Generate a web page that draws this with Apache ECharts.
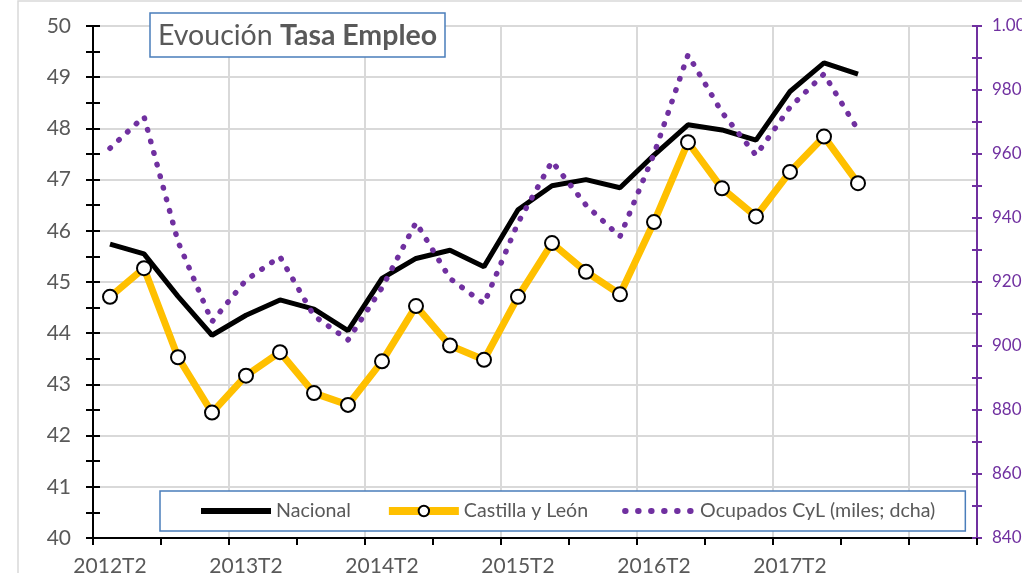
<!DOCTYPE html>
<html>
<head>
<meta charset="utf-8">
<script src="https://cdn.jsdelivr.net/npm/echarts@6/dist/echarts.min.js"></script>
<style>
html,body{margin:0;padding:0;background:#fff;}
#c{width:1022px;height:573px;}
</style>
</head>
<body>
<div id="c"></div>
<script>
// Categories: quarters 2012T2 .. 2018T3
const categories = [
  '2012T2','2012T3','2012T4','2013T1','2013T2','2013T3','2013T4','2014T1',
  '2014T2','2014T3','2014T4','2015T1','2015T2','2015T3','2015T4','2016T1',
  '2016T2','2016T3','2016T4','2017T1','2017T2','2017T3','2017T4','2018T1',
  '2018T2','2018T3'
];
const nacional = [45.74,45.55,44.72,43.96,44.35,44.65,44.47,44.05,45.07,45.46,45.62,45.30,
  46.41,46.88,47.00,46.84,47.48,48.07,47.97,47.77,48.72,49.28,49.06];
const castilla = [44.71,45.27,43.53,42.45,43.17,43.63,42.83,42.60,43.45,44.53,43.76,43.48,
  44.71,45.76,45.20,44.76,46.17,47.73,46.83,46.28,47.15,47.84,46.93];
const ocupados = [961.8,971.7,932.6,907.6,920.6,927.9,909.4,901.9,918.2,938.6,921.1,913.2,
  938.5,957.7,944.0,934.2,960.0,991.0,973.0,959.6,974.6,985.0,967.5];
const seriesNames = ['Nacional','Castilla y León','Ocupados CyL (miles; dcha)'];

const chart = echarts.init(document.getElementById('c'));
const grey = '#595959';
const font = 'Lato';
const purple = '#7030a0';
const hidden = { color: 'rgba(0,0,0,0)', borderColor: 'rgba(0,0,0,0)', opacity: 0 };

chart.setOption({
  animation: false,
  textStyle: { fontFamily: font },
  graphic: [{
    type: 'rect', silent: true, z: -10,
    shape: { x: 18, y: 1, width: 1100, height: 700 },
    style: { fill: 'none', stroke: '#d9d9d9', lineWidth: 1.5 }
  }],
  title: {
    left: 150, top: 13,
    text: '{n|Evoución }{b|Tasa Empleo}',
    backgroundColor: '#fff',
    borderColor: '#4a7ebb', borderWidth: 1.5,
    padding: [8, 8, 7, 8],
    textStyle: {
      rich: {
        n: { fontSize: 28.5, color: grey, fontFamily: font, fontWeight: 'normal' },
        b: { fontSize: 28.5, color: grey, fontFamily: font, fontWeight: 'bold' }
      }
    },
    z: 10
  },
  legend: {
    left: 160, top: 491,
    data: [
      { name: seriesNames[0], itemStyle: hidden, lineStyle: { width: 6, color: '#000' } },
      { name: seriesNames[1], lineStyle: { width: 8, color: '#ffc000' } },
      { name: seriesNames[2], itemStyle: hidden,
        lineStyle: { width: 6, color: purple, type: [0.5, 12.5], cap: 'round' } }
    ],
    itemWidth: 70, itemHeight: 13, itemGap: 34,
    padding: [10, 30, 10, 38],
    borderColor: '#4a7ebb', borderWidth: 1.5,
    backgroundColor: '#fff',
    textStyle: { fontSize: 19.6, color: grey, fontFamily: font },
    z: 10
  },
  grid: { left: 93, right: 45, top: 26, bottom: 35, containLabel: false, outerBoundsMode: 'none' },
  xAxis: {
    type: 'category',
    data: categories,
    boundaryGap: true,
    axisLine: { lineStyle: { color: '#000', width: 2 } },
    axisTick: { show: true, interval: 1, length: 7, lineStyle: { color: '#000', width: 2 } },
    axisLabel: { interval: 3, fontSize: 21, color: grey, fontFamily: font, margin: 18,
      formatter: (v, i) => i < nacional.length ? v : '' },
    splitLine: { show: true, interval: 3, lineStyle: { color: '#d9d9d9', width: 2 } }
  },
  yAxis: [{
    type: 'value', position: 'left', min: 40, max: 50, interval: 1,
    axisLine: { show: true, lineStyle: { color: '#000', width: 2 } },
    axisTick: { show: true, length: 7, lineStyle: { color: '#000', width: 2 } },
    minorTick: { show: true, splitNumber: 2, length: 7, lineStyle: { color: '#000', width: 2 } },
    axisLabel: { fontSize: 21, color: grey, fontFamily: font, margin: 22 },
    splitLine: { show: true, lineStyle: { color: '#d9d9d9', width: 2 } }
  }, {
    type: 'value', position: 'right', min: 840, max: 1000, interval: 20,
    axisLine: { show: true, lineStyle: { color: purple, width: 2 } },
    axisTick: { show: true, length: 5, lineStyle: { color: purple, width: 2 } },
    minorTick: { show: true, splitNumber: 2, length: 5, lineStyle: { color: purple, width: 2 } },
    axisLabel: { fontSize: 17, color: purple, fontFamily: font, margin: 15,
      formatter: v => v >= 1000 ? (v / 1000).toFixed(3) : String(v) },
    splitLine: { show: false }
  }, {
    type: 'value', position: 'left', min: 40, max: 50, interval: 1,
    axisLine: { show: false },
    axisTick: { show: true, inside: true, length: 7, lineStyle: { color: '#000', width: 2 } },
    minorTick: { show: true, splitNumber: 2, length: 7, lineStyle: { color: '#000', width: 2 } },
    axisLabel: { show: false },
    splitLine: { show: false }
  }, {
    type: 'value', position: 'right', min: 840, max: 1000, interval: 20,
    axisLine: { show: false },
    axisTick: { show: true, inside: true, length: 5, lineStyle: { color: purple, width: 2 } },
    minorTick: { show: true, splitNumber: 2, length: 5, lineStyle: { color: purple, width: 2 } },
    axisLabel: { show: false },
    splitLine: { show: false }
  }],
  series: [{
    name: seriesNames[0], type: 'line', data: nacional, yAxisIndex: 0,
    showSymbol: false, symbol: 'none',
    lineStyle: { color: '#000', width: 5 }, itemStyle: { color: '#000' }, z: 2
  }, {
    name: seriesNames[1], type: 'line', data: castilla, yAxisIndex: 0,
    symbol: 'circle', symbolSize: 14, showSymbol: true,
    lineStyle: { color: '#ffc000', width: 7 },
    itemStyle: { color: '#fff', borderColor: '#000', borderWidth: 2 }, z: 3
  }, {
    name: seriesNames[2], type: 'line', data: ocupados, yAxisIndex: 1,
    showSymbol: false, symbol: 'none',
    lineStyle: { color: purple, width: 5.5, type: [0.5, 11.5], cap: 'round' },
    itemStyle: { color: purple }, z: 4
  }]
});
</script>
</body>
</html>
